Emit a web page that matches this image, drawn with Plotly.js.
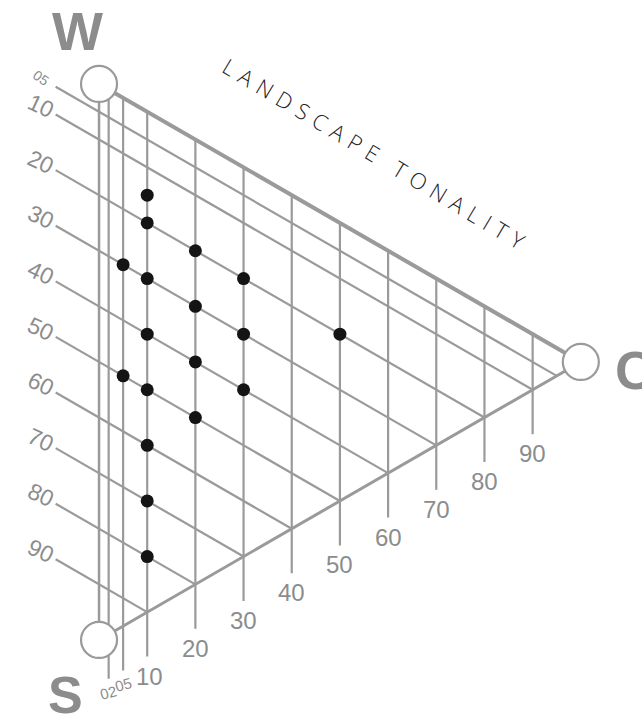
<!DOCTYPE html>
<html>
<head>
<meta charset="utf-8">
<script src="https://cdn.plot.ly/plotly-3.0.1.min.js"></script>
<style>
  html, body { margin: 0; padding: 0; background: #fff; }
  #plot { width: 642px; height: 725px; }
</style>
</head>
<body>
<div id="plot"></div>
<script>
// --- data (colour % and black %, Ostwald triangle W / S / C) ---
const vertexNames = ['W', 'S', 'C'];
const colourTicks = [2, 5, 10, 20, 30, 40, 50, 60, 70, 80, 90];
const colourLabels = ['02', '05', '10', '20', '30', '40', '50', '60', '70', '80', '90'];
const blackTicks = [5, 10, 20, 30, 40, 50, 60, 70, 80, 90];
const blackLabels = ['05', '10', '20', '30', '40', '50', '60', '70', '80', '90'];
const dotColour = [10, 10, 10, 10, 10, 10, 10, 10, 5, 5, 20, 20, 20, 20, 30, 30, 30, 50];
const dotBlack  = [15, 20, 30, 40, 50, 60, 70, 80, 30, 50, 20, 30, 40, 50, 20, 30, 40, 20];
const chartTitle = 'LANDSCAPE TONALITY';

// --- triangle -> cartesian ---
const H = Math.sqrt(3) / 2;
const px = (c, s) => H * c;
const py = (c, s) => 100 - s - 0.5 * c;

const grey = '#9a9a9a';
const labelGrey = '#8c8c8c';
const EXT = 8;      // how far grid lines run past the edge
const LAB = 11.5;   // where the tick label sits

// grid lines of constant colour (vertical)
const gx = [], gy = [];
colourTicks.forEach(c => {
    gx.push(px(c, 0), px(c, 0), null);
    gy.push(py(c, 0), py(c, 100 - c) - EXT, null);
});
// grid lines of constant black (parallel to W-C)
blackTicks.forEach(s => {
    gx.push(px(-EXT - 1, s), px(100 - s, s), null);
    gy.push(py(-EXT - 1, s), py(100 - s, s), null);
});

const traces = [
    { x: gx, y: gy, mode: 'lines', line: { color: grey, width: 2.2 }, hoverinfo: 'skip' },
    // edges
    { x: [px(0, 0), px(0, 100)], y: [py(0, 0), py(0, 100)], mode: 'lines', line: { color: grey, width: 2.5 }, hoverinfo: 'skip' },
    { x: [px(0, 0), px(100, 0)], y: [py(0, 0), py(100, 0)], mode: 'lines', line: { color: grey, width: 4 }, hoverinfo: 'skip' },
    { x: [px(0, 100), px(100, 0)], y: [py(0, 100), py(100, 0)], mode: 'lines', line: { color: grey, width: 3 }, hoverinfo: 'skip' },
    // vertex circles
    {
        x: [px(0, 0), px(0, 100), px(100, 0)],
        y: [py(0, 0), py(0, 100), py(100, 0)],
        mode: 'markers',
        marker: { size: 36, color: '#fff', line: { color: grey, width: 2.2 } },
        hoverinfo: 'skip'
    },
    // samples
    {
        x: dotColour.map((c, i) => px(c, dotBlack[i])),
        y: dotColour.map((c, i) => py(c, dotBlack[i])),
        mode: 'markers',
        marker: { size: 13, color: '#141414' },
        text: dotColour.map((c, i) => `C ${c} / S ${dotBlack[i]}`),
        hoverinfo: 'text'
    }
];

// --- annotations ---
const annotations = [];
colourTicks.forEach((c, i) => {
    const small = c < 10;
    annotations.push({
        x: px(c, 0), y: py(c, 100 - c) - LAB + (small ? 1 : 0),
        xshift: c === 10 ? 2 : 0,
        text: colourLabels[i], showarrow: false,
        textangle: small ? -15 : 0,
        font: { family: 'Liberation Sans, Arial, sans-serif', size: small ? 15 : 24, color: labelGrey }
    });
});
blackTicks.forEach((s, i) => {
    const small = s < 10;
    annotations.push({
        x: px(-EXT - 4, s), y: py(-EXT - 4, s),
        text: blackLabels[i], showarrow: false,
        textangle: small ? 35 : 25,
        font: { family: 'Liberation Sans, Arial, sans-serif', size: small ? 14 : 23, color: labelGrey }
    });
});
// vertex letters
const vertexPos = [[0, 0], [0, 100], [100, 0]];
const vertexShift = [[-22, 53], [-34, -55], [54, -8]];
vertexNames.forEach((n, i) => {
    annotations.push({
        x: px(vertexPos[i][0], vertexPos[i][1]), y: py(vertexPos[i][0], vertexPos[i][1]),
        xshift: vertexShift[i][0], yshift: vertexShift[i][1],
        text: '<b>' + n + '</b>', showarrow: false,
        font: { family: 'Liberation Sans, Arial, sans-serif', size: n === 'S' ? 52 : 54, color: labelGrey }
    });
});
// title along the W-C edge
annotations.push({
    x: px(57, 0), y: py(57, 0) + 16,
    text: chartTitle.split('').join('\u2004'),
    showarrow: false, textangle: 31,
    font: { family: 'Open Sans, sans-serif', size: 22, weight: 300, stretch: 'condensed', color: '#222' }
});

const layout = {
    width: 642, height: 725,
    margin: { l: 0, r: 0, t: 0, b: 0 },
    paper_bgcolor: '#fff', plot_bgcolor: '#fff',
    showlegend: false,
    xaxis: { range: [-17.8, 97.6], visible: false, fixedrange: true },
    yaxis: { range: [-15.3, 115.1], visible: false, fixedrange: true },
    annotations: annotations
};

Plotly.newPlot('plot', traces, layout, { displayModeBar: false, staticPlot: true });
</script>
</body>
</html>
